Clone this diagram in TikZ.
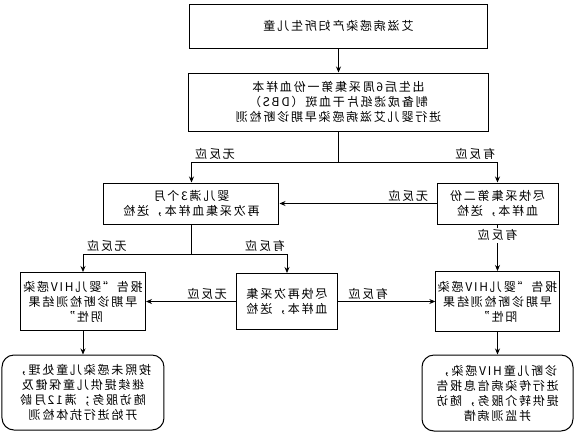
\documentclass[tikz,border=0pt]{standalone}
\usepackage{fontspec}
\newfontfamily\cjk[LetterSpace=15]{Noto Sans CJK SC}
\usetikzlibrary{arrows.meta}
\begin{document}
\begin{tikzpicture}[x=1pt,y=-1pt,xscale=-1,transform shape,
    box/.style={draw,line width=1pt,inner sep=2pt,align=center,font=\cjk\fontsize{12}{15}\selectfont},
    rbox/.style={box,rounded corners=12pt},
    lbl/.style={above,inner sep=2pt,font=\cjk\fontsize{12}{15}\selectfont},
    arr/.style={line width=0.8pt,-{Stealth[length=6pt,width=5pt]}},
    line/.style={line width=0.8pt}]
  \useasboundingbox (0,0) rectangle (577,442);
  \node[box,minimum width=297pt,minimum height=44pt] (top) at (238.5,26) {艾滋病感染产妇所生儿童}; % mothers
  \node[box,minimum width=300pt,minimum height=58pt] (dbs) at (238.5,102)
    {出生后6周采集第一份血样本\\制备成滤纸片干血斑（DBS）\\进行婴儿艾滋病感染早期诊断检测}; % first test
  \node[box,minimum width=175pt,minimum height=41pt] (wait3m) at (385.5,203.5) {婴儿满3个月\\再次采集血样本，送检};
  \node[box,minimum width=121pt,minimum height=41pt] (second) at (79.5,203.5) {尽快采集第二份\\血样本，送检};
  \node[box,minimum width=125pt,minimum height=58pt] (negative) at (494,301.5) {报告“婴儿HIV感染\\早期诊断检测结果\\阴性”};
  \node[box,minimum width=101pt,minimum height=56pt] (retest) at (290,301.5) {尽快再次采集\\血样本，送检};
  \node[box,minimum width=123pt,minimum height=60pt] (positive) at (79.5,301.5) {报告“婴儿HIV感染\\早期诊断检测结果\\阳性”};
  \node[rbox,minimum width=162pt,minimum height=75pt] (follow) at (494,392.5)
    {按照未感染儿童处理，\\继续提供儿童保健及\\随访服务；满12月龄\\开始进行抗体检测}; % not infected
  \node[rbox,minimum width=151pt,minimum height=76pt] (hivcare) at (79.5,393)
    {诊断儿童HIV感染，\\进行传染病信息报告\\提供转介服务，随访\\并监测病情}; % infected
  \coordinate (s1) at (238.5,162); % split below first test
  \coordinate (s2) at (385.5,254); % split below 3 months
  \draw[arr] (top) -- (dbs);
  \draw[line] (dbs) -- (s1);
  \draw[arr] (s1) -| node[lbl,pos=0.42] {无反应} (wait3m);
  \draw[arr] (s1) -| node[lbl,pos=0.43] {有反应} (second);
  \draw[arr] (second) -- node[lbl,pos=0.18] {无反应} (wait3m);
  \draw[arr] (second) -- node[font=\cjk\fontsize{12}{15}\selectfont,fill=white,inner sep=2pt,pos=0.23] {有反应} (positive);
  \draw[line] (wait3m) -- (s2);
  \draw[arr] (s2) -| node[lbl,pos=0.39] {无反应} (negative);
  \draw[arr] (s2) -| node[lbl,pos=0.385] {有反应} (retest);
  \draw[arr] (retest) -- node[lbl,pos=0.32] {无反应} (negative);
  \draw[arr] (retest) -- node[lbl,pos=0.31] {有反应} (positive);
  \draw[arr] (negative) -- (follow);
  \draw[arr] (positive) -- (hivcare);
\end{tikzpicture}
\end{document}
